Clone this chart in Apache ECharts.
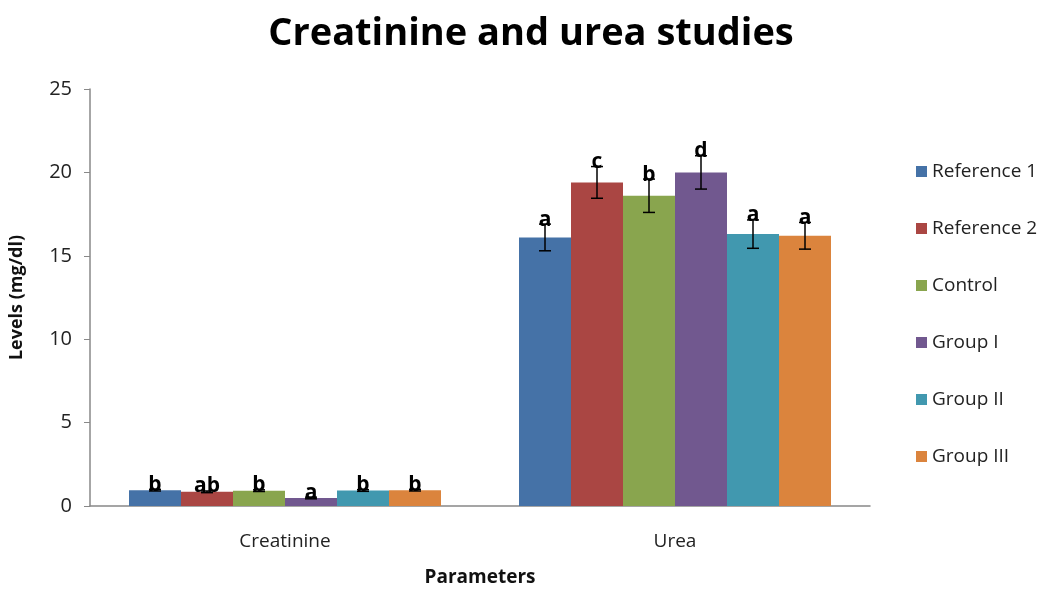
<!DOCTYPE html>
<html>
<head>
<meta charset="utf-8">
<script src="https://cdn.jsdelivr.net/npm/echarts@6/dist/echarts.min.js"></script>
<style>
  html, body { margin: 0; padding: 0; background: #fff; }
  #chart { width: 1059px; height: 592px; }
</style>
</head>
<body>
<div id="chart"></div>
<script>
// data
const categories = ['Creatinine', 'Urea']
const groupNames = ['Reference 1', 'Reference 2', 'Control', 'Group I', 'Group II', 'Group III']
const reference1 = [0.95, 16.1]
const reference2 = [0.85, 19.4]
const control = [0.92, 18.6]
const groupI = [0.48, 20.0]
const groupII = [0.93, 16.3]
const groupIII = [0.95, 16.2]
const reference1Err = [0.05, 0.8]
const reference2Err = [0.05, 0.95]
const controlErr = [0.05, 1.0]
const groupIErr = [0.05, 1.0]
const groupIIErr = [0.05, 0.85]
const groupIIIErr = [0.05, 0.8]
const reference1Sig = ['b', 'a']
const reference2Sig = ['ab', 'c']
const controlSig = ['b', 'b']
const groupISig = ['a', 'd']
const groupIISig = ['b', 'a']
const groupIIISig = ['b', 'a']
const yTicks = [0, 5, 10, 15, 20, 25]

const values = [reference1, reference2, control, groupI, groupII, groupIII]
const errors = [reference1Err, reference2Err, controlErr, groupIErr, groupIIErr, groupIIIErr]
const letters = [reference1Sig, reference2Sig, controlSig, groupISig, groupIISig, groupIIISig]
const colors = ['#4572A7', '#AA4643', '#89A54E', '#71588F', '#4198AF', '#DB843D']

const font = '"Open Sans", sans-serif'
const catGapRatio = 0.2

function errorSeries(idx) {
  return {
    type: 'custom',
    name: groupNames[idx] + ' err',
    z: 5,
    data: categories.map((c, i) => [i, values[idx][i], errors[idx][i], letters[idx][i]]),
    renderItem(params, api) {
      const cat = api.value(0)
      const v = api.value(1)
      const e = api.value(2)
      const catW = api.size([1, 0])[0]
      const barW = catW * (1 - catGapRatio) / groupNames.length
      const center = api.coord([cat, v])
      const x = center[0] - catW * (1 - catGapRatio) / 2 + barW * (idx + 0.5)
      const top = api.coord([cat, v + e])[1]
      const bot = api.coord([cat, v - e])[1]
      const cap = 6
      const stroke = { stroke: '#000', lineWidth: 1.5 }
      return {
        type: 'group',
        children: [
          { type: 'line', shape: { x1: x, y1: top, x2: x, y2: bot }, style: stroke },
          { type: 'line', shape: { x1: x - cap, y1: top, x2: x + cap, y2: top }, style: stroke },
          { type: 'line', shape: { x1: x - cap, y1: bot, x2: x + cap, y2: bot }, style: stroke },
          {
            type: 'text',
            style: {
              x: x,
              y: top + 6,
              text: api.value(3),
              fill: '#000',
              font: 'bold 21px ' + font,
              textAlign: 'center',
              textVerticalAlign: 'bottom'
            }
          }
        ]
      }
    }
  }
}

const chart = echarts.init(document.getElementById('chart'))

const barSeries = groupNames.map((name, idx) => ({
  name: name,
  type: 'bar',
  barGap: 0,
  barCategoryGap: '20%',
  itemStyle: { color: colors[idx] },
  data: values[idx]
}))

chart.setOption({
  animation: false,
  textStyle: { fontFamily: font },
  title: {
    text: 'Creatinine and urea studies',
    left: 526,
    textAlign: 'center',
    top: 10,
    textStyle: { fontSize: 38, fontWeight: 'bold', color: '#000', fontFamily: font }
  },
  legend: {
    orient: 'vertical',
    left: 911,
    top: 157,
    itemGap: 38,
    itemWidth: 11,
    itemHeight: 11,
    icon: 'rect',
    data: groupNames,
    textStyle: { fontSize: 19, color: '#222', fontFamily: font }
  },
  grid: { left: 90, right: 189, top: 89, bottom: 82, containLabel: false },
  xAxis: {
    type: 'category',
    data: categories,
    name: 'Parameters',
    nameLocation: 'middle',
    nameGap: 62,
    nameTextStyle: { fontSize: 19, fontWeight: 'bold', color: '#111' },
    axisLine: { lineStyle: { color: '#888', width: 1.5 } },
    axisTick: { show: false },
    axisLabel: { fontSize: 19, color: '#222', margin: 26 }
  },
  yAxis: {
    type: 'value',
    min: yTicks[0],
    max: yTicks[yTicks.length - 1],
    interval: 5,
    name: 'Levels (mg/dl)',
    nameLocation: 'middle',
    nameGap: 64,
    nameTextStyle: { fontSize: 18, fontWeight: 'bold', color: '#111' },
    axisLine: { show: true, lineStyle: { color: '#888', width: 1.5 } },
    axisTick: { show: true, length: 6, lineStyle: { color: '#888' } },
    axisLabel: { fontSize: 20, color: '#222', margin: 18 },
    splitLine: { show: false }
  },
  series: barSeries.concat(groupNames.map((n, idx) => errorSeries(idx)))
})
</script>
</body>
</html>
